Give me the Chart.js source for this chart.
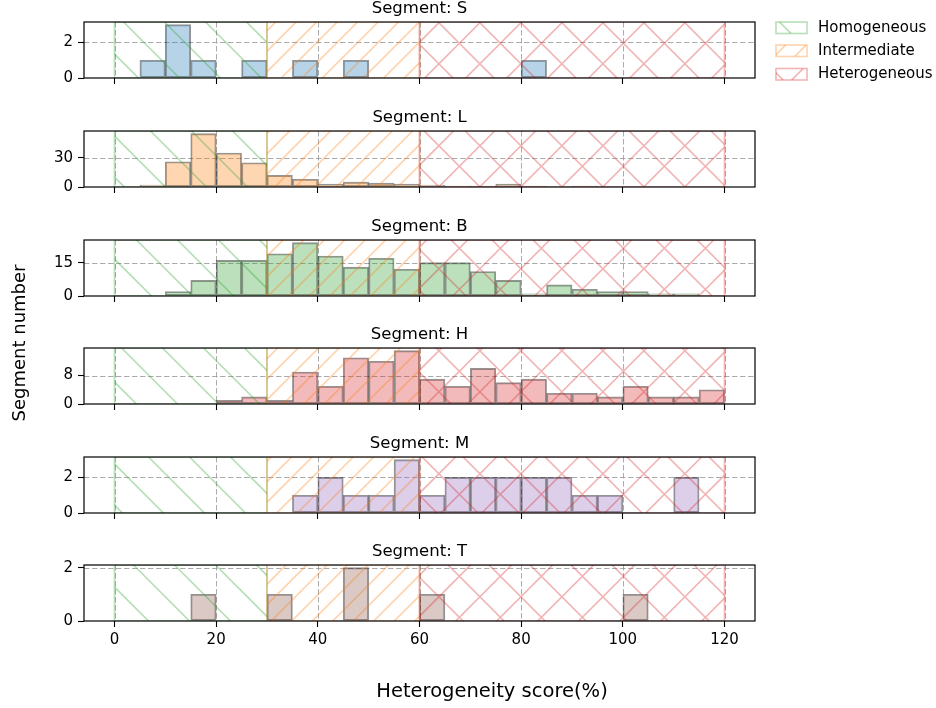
<!DOCTYPE html>
<html><head><meta charset="utf-8">
<script src="https://cdn.jsdelivr.net/npm/chart.js@4/dist/chart.umd.min.js"></script>
<style>
html,body{margin:0;padding:0;background:#fff;}
#wrap{position:relative;width:936px;height:708px;overflow:hidden;background:#fff;}
#wrap canvas{position:absolute;left:0;top:0;}
</style></head><body><div id="wrap"></div>
<script>
// ---------- data ----------
const binStarts = [0,5,10,15,20,25,30,35,40,45,50,55,60,65,70,75,80,85,90,95,100,105,110,115];
const binWidth = 5;
const segmentNames = ['S','L','B','H','M','T'];
const countsS = [0,1,3,1,0,1,0,1,0,1,0,0,0,0,0,0,1,0,0,0,0,0,0,0];
const countsL = [0,2,26,55,35,25,12,8,3,5,4,3,2,1,1,3,1,0,1,0,0,0,0,0];
const countsB = [0,0,2,7,16,16,19,24,18,13,17,12,15,15,11,7,1,5,3,2,2,1,1,0];
const countsH = [0,0,0,0,1,2,1,9,5,13,12,15,7,5,10,6,7,3,3,2,5,2,2,4];
const countsM = [0,0,0,0,0,0,0,1,2,1,1,3,1,2,2,2,2,2,1,1,0,0,2,0];
const countsT = [0,0,0,1,0,0,1,0,0,2,0,0,1,0,0,0,0,0,0,0,1,0,0,0];
const yTicksS = [0,2], yTicksL = [0,30], yTicksB = [0,15], yTicksH = [0,8], yTicksM = [0,2], yTicksT = [0,2];
const xTicks = [0,20,40,60,80,100,120];
const regionNames = ['Homogeneous','Intermediate','Heterogeneous'];
const regionStart = [0,30,60];
const regionEnd = [30,60,120];
const xLabel = 'Heterogeneity score(%)';
const yLabel = 'Segment number';

// ---------- styling ----------
const allCounts = [countsS,countsL,countsB,countsH,countsM,countsT];
const allYTicks = [yTicksS,yTicksL,yTicksB,yTicksH,yTicksM,yTicksT];
const barColors = ['31,119,180','255,127,14','44,160,44','214,39,40','148,103,189','140,86,75'];
const regionColors = ['44,160,44','255,127,14','214,39,40'];
const P = 41; // hatch period (px)
const regionHatch = [
  [{fam:'\\', period:P, phase:19.5}],
  [{fam:'/', period:P/2, phase:10.7}],
  [{fam:'/', period:P, phase:10.7},{fam:'\\', period:P, phase:6.1}]
];
const AX_L = 84, AX_R = 755, PANEL_H = 56, XH = 30;
const panelTops = [22,131,240,348,457,565];
const FONT = '"DejaVu Sans", "Liberation Sans", sans-serif';
const HATCH_A = 0.34, HATCH_W = 1.7;

function hatch(ctx, x0, y0, x1, y1, spec, color, lw) {
  ctx.save();
  ctx.beginPath(); ctx.rect(x0, y0, x1 - x0, y1 - y0); ctx.clip();
  ctx.strokeStyle = color; ctx.lineWidth = lw;
  ctx.beginPath();
  for (const h of spec) {
    if (h.fam === '/') {
      const cmin = x0 + y0, cmax = x1 + y1;
      let c = h.phase + Math.ceil((cmin - h.phase) / h.period) * h.period;
      for (; c <= cmax; c += h.period) { ctx.moveTo(c - y0, y0); ctx.lineTo(c - y1, y1); }
    } else {
      const cmin = x0 - y1, cmax = x1 - y0;
      let c = h.phase + Math.ceil((cmin - h.phase) / h.period) * h.period;
      for (; c <= cmax; c += h.period) { ctx.moveTo(c + y0, y0); ctx.lineTo(c + y1, y1); }
    }
  }
  ctx.stroke();
  ctx.restore();
}

const wrap = document.getElementById('wrap');
segmentNames.forEach((name, i) => {
  const cv = document.createElement('canvas');
  cv.width = 936; cv.height = 708;
  cv.style.width = '936px'; cv.style.height = '708px';
  wrap.appendChild(cv);
  const counts = allCounts[i];
  const yTicks = allYTicks[i];
  const top = panelTops[i];
  const isLast = i === segmentNames.length - 1;
  const ymax = Math.max(...counts) * 1.05;

  const panelPlugin = {
    id: 'panel' + i,
    beforeDatasetsDraw(chart) {
      const {ctx, chartArea: a, scales: {x, y}} = chart;
      ctx.save();
      ctx.beginPath(); ctx.rect(a.left, a.top, a.right - a.left, a.bottom - a.top); ctx.clip();
      ctx.strokeStyle = 'rgba(150,150,150,0.8)'; ctx.lineWidth = 1; ctx.setLineDash([5.5, 2.5]);
      ctx.beginPath();
      xTicks.forEach(v => { const px = Math.round(x.getPixelForValue(v)) + 0.5; ctx.moveTo(px, a.top); ctx.lineTo(px, a.bottom); });
      yTicks.forEach(v => { const py = Math.round(y.getPixelForValue(v)) + 0.5; ctx.moveTo(a.left, py); ctx.lineTo(a.right, py); });
      ctx.stroke();
      ctx.restore();
    },
    afterDatasetsDraw(chart) {
      const {ctx, chartArea: a, scales: {x}} = chart;
      ctx.save();
      ctx.beginPath(); ctx.rect(a.left, a.top, a.right - a.left, a.bottom - a.top); ctx.clip();
      regionNames.forEach((r, k) => {
        const x0 = x.getPixelForValue(regionStart[k]);
        const x1 = x.getPixelForValue(regionEnd[k]);
        const col = 'rgba(' + regionColors[k] + ',' + HATCH_A + ')';
        hatch(ctx, x0, a.top, x1, a.bottom, regionHatch[k], col, HATCH_W);
        ctx.strokeStyle = col; ctx.lineWidth = 1.6;
        ctx.strokeRect(x0, a.top, x1 - x0, a.bottom - a.top);
      });
      ctx.restore();
    },
    afterDraw(chart) {
      const {ctx, chartArea: a} = chart;
      ctx.save();
      ctx.strokeStyle = '#000'; ctx.lineWidth = 1.2;
      ctx.strokeRect(a.left, a.top, a.right - a.left, a.bottom - a.top);
      ctx.fillStyle = '#000';
      ctx.font = '16.5px ' + FONT;
      ctx.textAlign = 'center'; ctx.textBaseline = 'alphabetic';
      ctx.fillText('Segment: ' + name, (a.left + a.right) / 2, a.top - 9);
      if (i === 0) {
        // legend
        const hx = 776, hw = 31, hh = 11.5;
        const rows = [22, 45, 68.5];
        regionNames.forEach((r, k) => {
          const col = 'rgba(' + regionColors[k] + ',' + HATCH_A + ')';
          hatch(ctx, hx, rows[k], hx + hw, rows[k] + hh, regionHatch[k], col, HATCH_W);
          ctx.strokeStyle = col; ctx.lineWidth = 1.6;
          ctx.strokeRect(hx, rows[k], hw, hh);
          ctx.fillStyle = '#000';
          ctx.font = '15px ' + FONT;
          ctx.textAlign = 'left'; ctx.textBaseline = 'middle';
          ctx.fillText(r, 818, rows[k] + hh / 2);
        });
      }
      if (isLast) {
        ctx.fillStyle = '#000';
        ctx.font = '19.5px ' + FONT;
        ctx.textAlign = 'center'; ctx.textBaseline = 'alphabetic';
        ctx.fillText(xLabel, 492, 697);
        ctx.save();
        ctx.translate(20, 343);
        ctx.rotate(-Math.PI / 2);
        ctx.font = '18px ' + FONT;
        ctx.textBaseline = 'middle';
        ctx.fillText(yLabel, 0, 0);
        ctx.restore();
      }
      ctx.restore();
    }
  };

  new Chart(cv, {
    type: 'bar',
    data: {
      datasets: [{
        data: binStarts.map((b, j) => ({x: b + binWidth / 2, y: counts[j]})),
        backgroundColor: 'rgba(' + barColors[i] + ',0.32)',
        borderColor: 'rgba(0,0,0,0.42)',
        borderWidth: 1.2,
        borderSkipped: false,
        barPercentage: 1,
        categoryPercentage: 1
      }]
    },
    options: {
      responsive: false,
      animation: false,
      devicePixelRatio: 1,
      layout: {padding: {left: 0, right: 936 - AX_R, top: top, bottom: 708 - (top + PANEL_H) - XH}},
      plugins: {legend: {display: false}, tooltip: {enabled: false}, title: {display: false}},
      scales: {
        x: {
          type: 'linear', min: -6, max: 126, offset: false,
          afterFit: s => { s.height = XH; },
          afterBuildTicks: s => { s.ticks = xTicks.map(v => ({value: v})); },
          grid: {display: true, drawOnChartArea: false, drawTicks: true, tickLength: 6, tickColor: '#000', tickWidth: 1.1, offset: false},
          border: {display: false},
          ticks: {display: isLast, color: '#000', font: {family: FONT, size: 15}, padding: 4, maxRotation: 0, autoSkip: false}
        },
        y: {
          type: 'linear', min: 0, max: ymax,
          afterFit: s => { s.width = AX_L; },
          afterBuildTicks: s => { s.ticks = yTicks.map(v => ({value: v})); },
          grid: {display: true, drawOnChartArea: false, drawTicks: true, tickLength: 6, tickColor: '#000', tickWidth: 1.1},
          border: {display: false},
          ticks: {color: '#000', font: {family: FONT, size: 15}, padding: 5}
        }
      }
    },
    plugins: [panelPlugin]
  });
});
</script>
</body></html>
